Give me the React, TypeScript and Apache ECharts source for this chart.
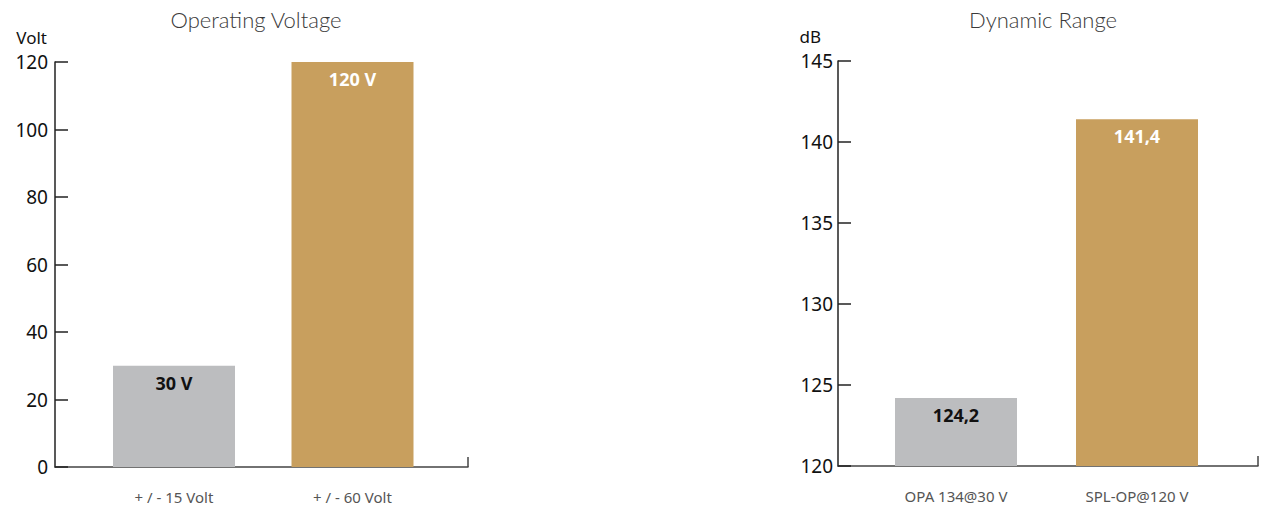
import React, { useEffect, useRef } from "react";
import * as echarts from "echarts";

const leftTitle = "Operating Voltage";
const leftUnit = "Volt";
const leftCategories = ["+ / - 15 Volt", "+ / - 60 Volt"];
const leftValues = [30, 120];

const rightTitle = "Dynamic Range";
const rightUnit = "dB";
const rightCategories = ["OPA 134@30 V", "SPL-OP@120 V"];
const rightValues = [124.2, 141.4];

const GRAY = "#BCBDBF";
const GOLD = "#C89F5E";
const barColors = [GRAY, GOLD];
const labelColors = ["#111111", "#FFFFFF"];

const FONT = "'Noto Sans', 'Open Sans', sans-serif";
const TITLE_FONT = "Lato, 'Open Sans', sans-serif";

export default function App() {
  const ref = useRef<HTMLDivElement>(null);
  useEffect(() => {
    document.body.style.margin = "0";
    const chart = echarts.init(ref.current!, null, { renderer: "svg" });
    const mk = (vals: number[], fmt: (v: number) => string) =>
      vals.map((v, i) => ({
        value: v,
        itemStyle: { color: barColors[i] },
        label: { color: labelColors[i], formatter: () => fmt(v) },
      }));
    const axisOnlyX = (gridIndex: number) => ({
      type: "value",
      gridIndex,
      min: 0,
      max: 1,
      axisLine: { show: true, lineStyle: { color: "#444", width: 1.5 } },
      axisTick: { show: true, inside: true, length: 10, customValues: [1], lineStyle: { color: "#444", width: 1.5 } },
      axisLabel: { show: false },
      splitLine: { show: false },
    });
    const catX = (gridIndex: number, data: string[]) => ({
      type: "category",
      gridIndex,
      data,
      axisLine: { show: false },
      axisTick: { show: false },
      axisLabel: { color: "#555", fontSize: 15, fontFamily: FONT, margin: 22 },
    });
    const valY = (gridIndex: number, min: number, max: number, interval: number, offset: number, name: string, namePad: number, labelMargin: number) => ({
      type: "value",
      gridIndex,
      min,
      max,
      interval,
      offset,
      name,
      nameLocation: "end",
      nameGap: 16,
      nameTextStyle: { color: "#111", fontSize: 17, lineHeight: 17, fontFamily: FONT, align: "right", verticalAlign: "bottom", padding: [0, namePad, 0, 0] },
      axisLine: { show: true, lineStyle: { color: "#222", width: 1.5 } },
      axisTick: { show: true, inside: true, length: 13, lineStyle: { color: "#222", width: 1.5 } },
      axisLabel: { color: "#111", fontSize: 19, lineHeight: 19, fontFamily: FONT, margin: labelMargin },
      splitLine: { show: false },
    });
    const hiddenY = (gridIndex: number) => ({ type: "value", gridIndex, min: 0, max: 1, show: false });
    const barLabel = {
      show: true,
      position: "insideTop",
      distance: 8,
      fontSize: 18,
      fontWeight: "bold",
      fontFamily: FONT,
    };
    const titleStyle = { color: "#3a3a3a", fontSize: 22, fontWeight: 300, fontFamily: TITLE_FONT };
    chart.setOption({
      animation: false,
      title: [
        { text: leftTitle, left: 251, top: 3, textAlign: "center", textStyle: titleStyle },
        { text: rightTitle, left: 1038, top: 3, textAlign: "center", textStyle: titleStyle },
      ],
      grid: [
        { left: 84.75, top: 62, width: 357, height: 405 },
        { left: 55, top: 62, width: 413, height: 405 },
        { left: 865.5, top: 61, width: 362, height: 405 },
        { left: 838, top: 61, width: 420, height: 405 },
      ],
      xAxis: [catX(0, leftCategories), axisOnlyX(1), catX(2, rightCategories), axisOnlyX(3)],
      yAxis: [
        valY(0, 0, 120, 20, 29.75, leftUnit, 8, 7),
        hiddenY(1),
        valY(2, 120, 145, 5, 27.5, rightUnit, 17, 5),
        hiddenY(3),
      ],
      series: [
        {
          type: "bar",
          xAxisIndex: 0,
          yAxisIndex: 0,
          barWidth: 122,
          data: mk(leftValues, (v) => `${v} V`),
          label: barLabel,
        },
        {
          type: "bar",
          xAxisIndex: 2,
          yAxisIndex: 2,
          barWidth: 122,
          data: mk(rightValues, (v) => v.toFixed(1).replace(".", ",")),
          label: barLabel,
        },
      ],
    } as any);
    return () => chart.dispose();
  }, []);
  return <div ref={ref} style={{ width: 1265, height: 518 }} />;
}
